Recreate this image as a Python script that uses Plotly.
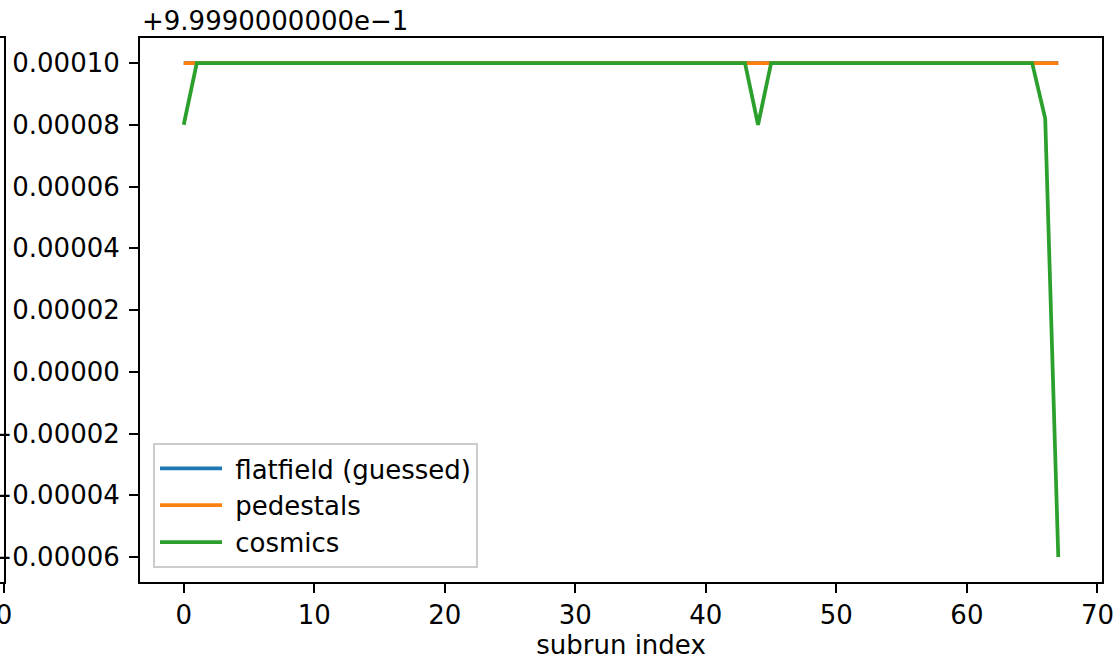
import plotly.graph_objects as go

subrun_index = list(range(68))

flatfield = [
    1.0, 1.0, 1.0, 1.0, 1.0, 1.0, 1.0, 1.0, 1.0, 1.0,
    1.0, 1.0, 1.0, 1.0, 1.0, 1.0, 1.0, 1.0, 1.0, 1.0,
    1.0, 1.0, 1.0, 1.0, 1.0, 1.0, 1.0, 1.0, 1.0, 1.0,
    1.0, 1.0, 1.0, 1.0, 1.0, 1.0, 1.0, 1.0, 1.0, 1.0,
    1.0, 1.0, 1.0, 1.0, 1.0, 1.0, 1.0, 1.0, 1.0, 1.0,
    1.0, 1.0, 1.0, 1.0, 1.0, 1.0, 1.0, 1.0, 1.0, 1.0,
    1.0, 1.0, 1.0, 1.0, 1.0, 1.0, 1.0, 1.0,
]
pedestals = [
    1.0, 1.0, 1.0, 1.0, 1.0, 1.0, 1.0, 1.0, 1.0, 1.0,
    1.0, 1.0, 1.0, 1.0, 1.0, 1.0, 1.0, 1.0, 1.0, 1.0,
    1.0, 1.0, 1.0, 1.0, 1.0, 1.0, 1.0, 1.0, 1.0, 1.0,
    1.0, 1.0, 1.0, 1.0, 1.0, 1.0, 1.0, 1.0, 1.0, 1.0,
    1.0, 1.0, 1.0, 1.0, 1.0, 1.0, 1.0, 1.0, 1.0, 1.0,
    1.0, 1.0, 1.0, 1.0, 1.0, 1.0, 1.0, 1.0, 1.0, 1.0,
    1.0, 1.0, 1.0, 1.0, 1.0, 1.0, 1.0, 1.0,
]
cosmics = [
    0.99998, 1.0, 1.0, 1.0, 1.0, 1.0, 1.0, 1.0, 1.0, 1.0,
    1.0, 1.0, 1.0, 1.0, 1.0, 1.0, 1.0, 1.0, 1.0, 1.0,
    1.0, 1.0, 1.0, 1.0, 1.0, 1.0, 1.0, 1.0, 1.0, 1.0,
    1.0, 1.0, 1.0, 1.0, 1.0, 1.0, 1.0, 1.0, 1.0, 1.0,
    1.0, 1.0, 1.0, 1.0, 0.99998, 1.0, 1.0, 1.0, 1.0, 1.0,
    1.0, 1.0, 1.0, 1.0, 1.0, 1.0, 1.0, 1.0, 1.0, 1.0,
    1.0, 1.0, 1.0, 1.0, 1.0, 1.0, 0.999982, 0.99984,
]

series_names = ["flatfield (guessed)", "pedestals", "cosmics"]
y_tick_vals = [0.99984, 0.99986, 0.99988, 0.9999, 0.99992, 0.99994, 0.99996, 0.99998, 1.0]
y_tick_text = ["\u22120.00006", "\u22120.00004", "\u22120.00002", "0.00000", "0.00002",
               "0.00004", "0.00006", "0.00008", "0.00010"]
x_tick_vals = [0, 10, 20, 30, 40, 50, 60, 70]
offset_label = "+9.9990000000e\u22121"
x_title = "subrun index"

W, H = 1119, 663
L_PX, R_PX, T_PX, B_PX = 140, 1102, 38, 582

FONT = dict(family="DejaVu Sans", size=26, color="black")

fig = go.Figure()
for name, vals, col in zip(series_names, [flatfield, pedestals, cosmics],
                           ["#1f77b4", "#ff7f0e", "#2ca02c"]):
    fig.add_trace(go.Scatter(x=subrun_index, y=vals, mode="lines", name="\u00a0" + name,
                             line=dict(color=col, width=3.75)))

# partial neighbouring panel on the far left (cut off)
fig.add_trace(go.Scatter(x=[None], y=[None], xaxis="x2", yaxis="y2", showlegend=False))

axis_common = dict(showgrid=False, zeroline=False, showline=True, linecolor="black",
                   linewidth=2, ticks="outside", ticklen=9, tickwidth=2, tickcolor="black",
                   tickfont=FONT, automargin=False, ticklabeloverflow="allow")

fig.update_layout(
    width=W, height=H,
    margin=dict(l=0, r=0, t=T_PX, b=H - B_PX),
    paper_bgcolor="white", plot_bgcolor="white",
    template="none",
    font=FONT,
    xaxis=dict(domain=[L_PX / W, R_PX / W], range=[-3.35, 70.35], tickvals=x_tick_vals,
               mirror=True, title=dict(text=x_title, font=FONT, standoff=6), **axis_common),
    yaxis=dict(domain=[0, 1], range=[0.9999 - 0.0000681, 0.9999 + 0.0001081],
               tickvals=y_tick_vals, ticktext=y_tick_text, mirror=True,
               ticklabelstandoff=4, **axis_common),
    xaxis2=dict(domain=[0, 4 / W], range=[-1, 0], tickvals=[0], anchor="y2",
                mirror=True, **axis_common),
    yaxis2=dict(domain=[0, 1], anchor="x2", side="right", showticklabels=False,
                showgrid=False, zeroline=False, showline=True, linecolor="black",
                linewidth=2, ticks="", automargin=False),
    legend=dict(x=153 / W, y=(B_PX - 443) / (B_PX - T_PX), xanchor="left", yanchor="top",
                bgcolor="rgba(255,255,255,0.8)", bordercolor="#cccccc", borderwidth=2,
                font=FONT, itemwidth=62),
    annotations=[dict(text=offset_label, x=L_PX / W, y=1, xref="paper", yref="paper",
                      xanchor="left", yanchor="bottom", showarrow=False, font=FONT,
                      yshift=0)],
)

fig.write_html("out.html", config={"displayModeBar": False},
               post_script="document.body.style.margin='0';")
